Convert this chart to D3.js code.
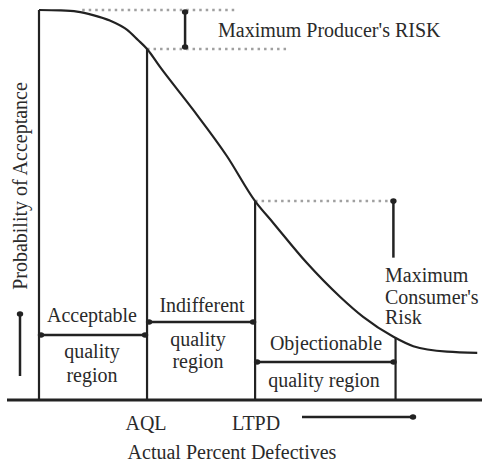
<!DOCTYPE html>
<html>
<head>
<meta charset="utf-8">
<script src="https://cdn.jsdelivr.net/npm/d3@7"></script>
<style>
  html, body { margin: 0; padding: 0; background: #fff; }
  svg text { font-family: "Liberation Serif", "DejaVu Serif", serif; fill: #2a2a2a; }
</style>
</head>
<body>
<div id="chart"></div>
<script>
//oc curve data: percent defective vs probability of acceptance
const defectives = [0, 0.49, 0.88, 1.25, 1.64, 2.04, 2.29, 2.5, 2.8, 3.56, 4.35, 5.0, 5.42, 6.2, 6.97, 7.5, 8.2, 8.66, 9.44, 10.14];
const acceptance = [1.0, 0.999, 0.996, 0.987, 0.973, 0.949, 0.923, 0.9, 0.854, 0.745, 0.625, 0.51, 0.454, 0.351, 0.264, 0.213, 0.162, 0.138, 0.124, 0.121];

//key points on the curve
const aql = 2.5,
    ltpd = 5.0,
    objectionableEnd = 8.25,
    producerArrowX = 3.38,
    consumerArrowX = 8.2,
    consumerArrowBottom = 0.365;

//region labels
const regionLabels = ["Acceptable", "Indifferent", "Objectionable"];
const axisTicks = ["AQL", "LTPD"];

//constants for the drawing
const width = 482,
    height = 463,
    ink = "#222",
    dotInk = "#a0a0a0",
    fontSize = 20;

const x = d3.scaleLinear().domain([0, 10.25]).range([39, 482]);
const y = d3.scaleLinear().domain([0, 1]).range([400, 10]);

const points = defectives.map((d, i) => ({ x: d, p: acceptance[i] }));

//linear lookup of the curve height at a given percent defective
function paAt(v) {
  let i = d3.bisector(d => d.x).right(points, v);
  if (i <= 0) return points[0].p;
  if (i >= points.length) return points[points.length - 1].p;
  let a = points[i - 1], b = points[i];
  return a.p + (b.p - a.p) * (v - a.x) / (b.x - a.x);
}

let svg = d3.select("#chart").append("svg")
    .attr("width", width)
    .attr("height", height);

function line(x1, y1, x2, y2, w) {
  return svg.append("line")
    .attr("x1", x1).attr("y1", y1)
    .attr("x2", x2).attr("y2", y2)
    .attr("stroke", ink)
    .attr("stroke-width", w || 2);
}

function dot(cx, cy) {
  svg.append("ellipse")
    .attr("cx", cx).attr("cy", cy)
    .attr("rx", 3.2).attr("ry", 2.8)
    .attr("fill", ink);
}

function dotted(x1, x2, yv) {
  svg.append("line")
    .attr("x1", x(x1)).attr("x2", x(x2))
    .attr("y1", y(yv)).attr("y2", y(yv))
    .attr("stroke", dotInk)
    .attr("stroke-width", 2.5)
    .attr("stroke-dasharray", "2.5,4");
}

function label(txt, cx, cy, anchor) {
  return svg.append("text")
    .attr("x", cx)
    .attr("y", cy)
    .attr("dy", "0.35em")
    .attr("text-anchor", anchor || "middle")
    .style("font-size", fontSize + "px")
    .text(txt);
}

//dotted guide lines for the risks
dotted(1.0, 4.6, 1.0);
dotted(aql, 5.75, paAt(aql));
dotted(ltpd, consumerArrowX, paAt(ltpd));

//axes
line(7, y(0), 482, y(0), 3);
line(x(0), y(0), x(0), y(1), 2.2);

//verticals up to the curve
[aql, ltpd, objectionableEnd].forEach(v => {
  line(x(v), y(0), x(v), y(paAt(v)), 2.2);
});

//the oc curve
svg.append("path")
  .datum(points)
  .attr("fill", "none")
  .attr("stroke", ink)
  .attr("stroke-width", 2.2)
  .attr("d", d3.line()
    .x(d => x(d.x))
    .y(d => y(d.p))
    .curve(d3.curveMonotoneX));

//producer's risk arrow
line(x(producerArrowX), y(1) + 2, x(producerArrowX), y(paAt(aql)) - 2, 2.5);
dot(x(producerArrowX), y(1) + 2);
dot(x(producerArrowX), y(paAt(aql)) - 2);
label("Maximum Producer's RISK", 218, 30, "start");

//consumer's risk arrow
line(x(consumerArrowX), y(paAt(ltpd)), x(consumerArrowX), y(consumerArrowBottom), 2.5);
dot(x(consumerArrowX), y(paAt(ltpd)));
label("Maximum", 385, 275, "start");
label("Consumer's", 385, 297, "start");
label("Risk", 385, 317, "start");

//region arrows
const regionBounds = [[0, aql, 335], [aql, ltpd, 322], [ltpd, objectionableEnd, 362]];
regionBounds.forEach(b => {
  line(x(b[0]) + 2, b[2], x(b[1]) - 2, b[2], 2.5);
  dot(x(b[0]) + 2, b[2]);
  dot(x(b[1]) - 2, b[2]);
});

//region texts
label(regionLabels[0], 92, 315);
label("quality", 92, 351);
label("region", 92, 375);
label(regionLabels[1], 202, 305);
label("quality", 198, 339);
label("region", 198, 361);
label(regionLabels[2], 326, 343);
label("quality region", 324, 380);

//x axis labels and arrow
label(axisTicks[0], x(aql) - 1, 423);
label(axisTicks[1], x(ltpd) + 1, 423);
line(302, 417, 413, 417, 2.5);
dot(413, 417);
label("Actual Percent Defectives", 232, 452);

//y axis label and arrow
svg.append("text")
  .attr("transform", "translate(20,186) rotate(-90)")
  .attr("dy", "0.35em")
  .attr("text-anchor", "middle")
  .style("font-size", fontSize + "px")
  .text("Probability of Acceptance");
line(20, 376, 20, 314, 2.5);
dot(20, 314);
</script>
</body>
</html>
